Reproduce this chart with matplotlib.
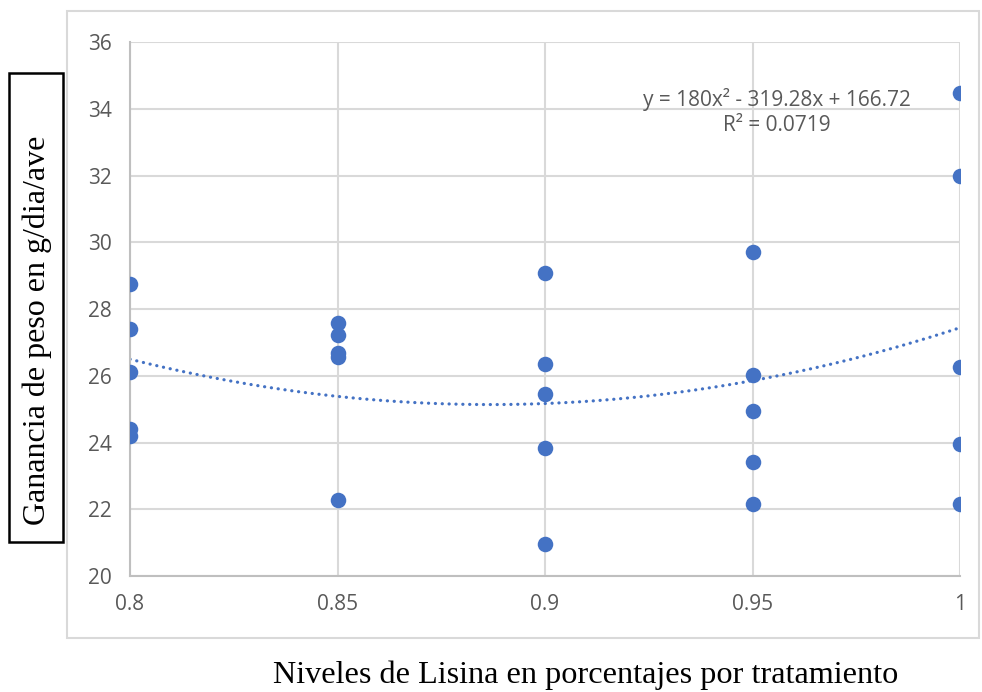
import numpy as np
from matplotlib import pyplot as plt
from matplotlib.patches import Rectangle

# lisina levels and weight gain (g/dia/ave)
lisina_levels = [0.8, 0.85, 0.9, 0.95, 1.0]
gain_080 = [28.75, 27.40, 26.10, 24.40, 24.20]
gain_085 = [27.57, 27.22, 26.68, 26.56, 22.27]
gain_090 = [29.07, 26.36, 25.46, 23.84, 20.96]
gain_095 = [29.72, 26.02, 24.95, 23.41, 22.16]
gain_100 = [34.48, 31.99, 26.27, 23.96, 22.16]

# excel polynomial trendline (order 2)
trend_coef = [180.0, -319.28, 166.72]
trend_label = 'y = 180x² - 319.28x + 166.72\nR² = 0.0719'

x_ticks = [0.8, 0.85, 0.9, 0.95, 1.0]
x_tick_labels = ['0.8', '0.85', '0.9', '0.95', '1']
y_ticks = [20, 22, 24, 26, 28, 30, 32, 34, 36]

x_title = 'Niveles de Lisina en porcentajes por tratamiento'
y_title = 'Ganancia de peso en g/dia/ave'

BLUE = '#4472C4'
GRID = '#d9d9d9'
TICK_COLOR = '#595959'

fig = plt.figure(figsize=(9.82, 6.92), dpi=100)
ax = fig.add_axes([0.1324, 0.1676, 0.8452, 0.7717])

# outer chart frame
fig.patches.append(Rectangle((0.0682, 0.078), 0.929, 0.906, transform=fig.transFigure,
                             fill=False, edgecolor=GRID, linewidth=1.5))

all_gain = [gain_080, gain_085, gain_090, gain_095, gain_100]
for level, gains in zip(lisina_levels, all_gain):
    ax.scatter([level] * len(gains), gains, s=125, color=BLUE, zorder=3, linewidths=0)

xs = np.linspace(lisina_levels[0], lisina_levels[-1], 200)
ax.plot(xs, np.polyval(trend_coef, xs), color=BLUE, linewidth=2.3,
        linestyle=(0, (0.05, 2.1)), dash_capstyle='round', zorder=2)

ax.text(0.9559, 33.9, trend_label, ha='center', va='center', fontsize=15,
        family='Open Sans', color=TICK_COLOR, linespacing=1.2)

ax.set_xlim(0.8, 1.0)
ax.set_ylim(20, 36)
ax.set_xticks(x_ticks)
ax.set_xticklabels(x_tick_labels)
ax.set_yticks(y_ticks)
ax.grid(True, color=GRID, linewidth=1.5)
ax.set_axisbelow(True)
for side in ['top', 'right']:
    ax.spines[side].set_visible(False)
for side in ['left', 'bottom']:
    ax.spines[side].set_color('#bfbfbf')
    ax.spines[side].set_linewidth(1.5)
ax.tick_params(length=0, labelsize=15, colors=TICK_COLOR, pad=13)
for lbl in ax.get_xticklabels() + ax.get_yticklabels():
    lbl.set_family('Open Sans')

# boxed y title
fig.text(0.0375, 0.523, y_title, rotation=90, ha='center', va='center',
         fontsize=23, family='Liberation Serif', color='black')
fig.patches.append(Rectangle((0.0092, 0.2168), 0.055, 0.6777, transform=fig.transFigure,
                             fill=False, edgecolor='black', linewidth=1.8))

fig.text(0.596, 0.024, x_title, ha='center', va='center', fontsize=23.2,
         family='Liberation Serif', color='black')

fig.savefig('out.png', dpi=100)
